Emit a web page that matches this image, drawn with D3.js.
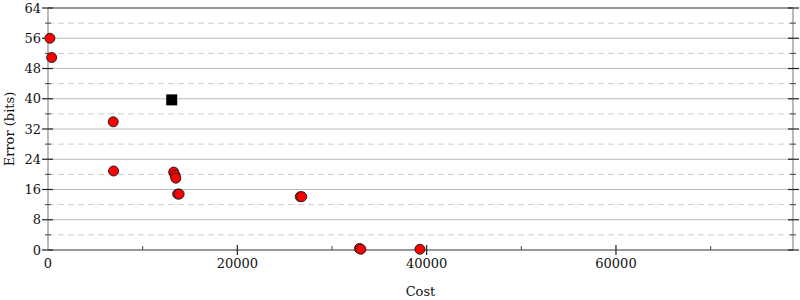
<!DOCTYPE html>
<head>
  <meta charset="utf-8">
  <script src="https://d3js.org/d3.v7.min.js"></script>
  <style>
    body { margin:0; background:#fff; }
    text { font-family: "DejaVu Serif", serif; fill:#111; }
  </style>
</head>
<body>
<script>
// cost / error pairs
var pointCost  = [200, 390, 6890, 6930, 13280, 13420, 13500, 13700, 13850, 26650, 26800, 32900, 33050, 39290];
var pointError = [56, 50.9, 33.9, 20.9, 20.6, 19.8, 19.0, 14.8, 14.8, 14.1, 14.1, 0.4, 0.2, 0.2];
var squareCost  = [13070];
var squareError = [39.7];
var xTicks = [0, 20000, 40000, 60000];
var xMinor = [10000, 30000, 50000, 70000];
var yTicks = [0, 8, 16, 24, 32, 40, 48, 56, 64];
var yMinor = [4, 12, 20, 28, 36, 44, 52, 60];

var width = 800, height = 300;
var mLeft = 48, mRight = 793, mTop = 8, mBottom = 250;

var svg = d3.select("body").append("svg")
    .attr("width", width).attr("height", height);

var x = d3.scaleLinear().domain([0, 78700]).range([mLeft, mRight]);
var y = d3.scaleLinear().domain([0, 64]).range([mBottom, mTop]);

// grid
svg.selectAll(".gmaj").data(yTicks.slice(1, -1)).enter().append("line")
  .attr("x1", mLeft).attr("x2", mRight)
  .attr("y1", d => y(d)).attr("y2", d => y(d))
  .attr("stroke", "#bbb").attr("stroke-width", 1);
svg.selectAll(".gmin").data(yMinor).enter().append("line")
  .attr("x1", mLeft).attr("x2", mRight)
  .attr("y1", d => y(d)).attr("y2", d => y(d))
  .attr("stroke", "#ccc").attr("stroke-width", 1).attr("stroke-dasharray", "6,4");

// frame
svg.append("line").attr("x1", mLeft).attr("x2", mRight).attr("y1", mTop).attr("y2", mTop)
  .attr("stroke", "#999").attr("stroke-width", 2);
svg.append("line").attr("x1", mLeft).attr("x2", mLeft).attr("y1", mTop).attr("y2", mBottom)
  .attr("stroke", "#bbb").attr("stroke-width", 2);
svg.append("line").attr("x1", mRight).attr("x2", mRight).attr("y1", mTop).attr("y2", mBottom)
  .attr("stroke", "#bbb").attr("stroke-width", 2);
svg.append("line").attr("x1", mLeft).attr("x2", mRight).attr("y1", mBottom).attr("y2", mBottom)
  .attr("stroke", "#999").attr("stroke-width", 2);

// y ticks, both sides
[mLeft, mRight].forEach(function(ax, i) {
  var o = i == 0 ? -1 : 1;
  svg.selectAll(null).data(yTicks).enter().append("line")
    .attr("x1", ax + o * 6).attr("x2", ax - o * 5)
    .attr("y1", d => y(d)).attr("y2", d => y(d))
    .attr("stroke", "#222").attr("stroke-width", 1.2);
  svg.selectAll(null).data(yMinor).enter().append("line")
    .attr("x1", ax + o * 3).attr("x2", ax - o * 3)
    .attr("y1", d => y(d)).attr("y2", d => y(d))
    .attr("stroke", "#444").attr("stroke-width", 1);
});
svg.selectAll(".ylab").data(yTicks).enter().append("text")
  .attr("x", mLeft - 7).attr("y", d => y(d)).attr("dy", "0.35em")
  .attr("text-anchor", "end").attr("font-size", 13).text(d => d);

// x ticks
svg.selectAll(".xt").data(xTicks.slice(1)).enter().append("line")
  .attr("x1", d => x(d)).attr("x2", d => x(d))
  .attr("y1", mBottom - 5).attr("y2", mBottom + 5)
  .attr("stroke", "#222").attr("stroke-width", 1.2);
svg.selectAll(".xm").data(xMinor).enter().append("line")
  .attr("x1", d => x(d)).attr("x2", d => x(d))
  .attr("y1", mBottom - 4).attr("y2", mBottom)
  .attr("stroke", "#444").attr("stroke-width", 1);
svg.selectAll(".xlab").data(xTicks).enter().append("text")
  .attr("x", d => x(d)).attr("y", mBottom + 18)
  .attr("text-anchor", "middle").attr("font-size", 13).text(d => d);

// axis titles
svg.append("text").attr("x", x(39350)).attr("y", 296)
  .attr("text-anchor", "middle").attr("font-size", 13).text("Cost");
svg.append("text").attr("transform", "translate(14," + y(32) + ") rotate(-90)")
  .attr("text-anchor", "middle").attr("font-size", 13).text("Error (bits)");

// marks
var pts = pointCost.map((c, i) => [c, pointError[i]]);
svg.selectAll(".pt").data(pts).enter().append("circle")
  .attr("cx", d => x(d[0])).attr("cy", d => y(d[1])).attr("r", 5)
  .attr("fill", "#f00").attr("stroke", "#222").attr("stroke-width", 1);

var sq = squareCost.map((c, i) => [c, squareError[i]]);
svg.selectAll(".sq").data(sq).enter().append("rect")
  .attr("x", d => x(d[0]) - 5.5).attr("y", d => y(d[1]) - 5.5)
  .attr("width", 11).attr("height", 11).attr("fill", "#000");
</script>
</body>
